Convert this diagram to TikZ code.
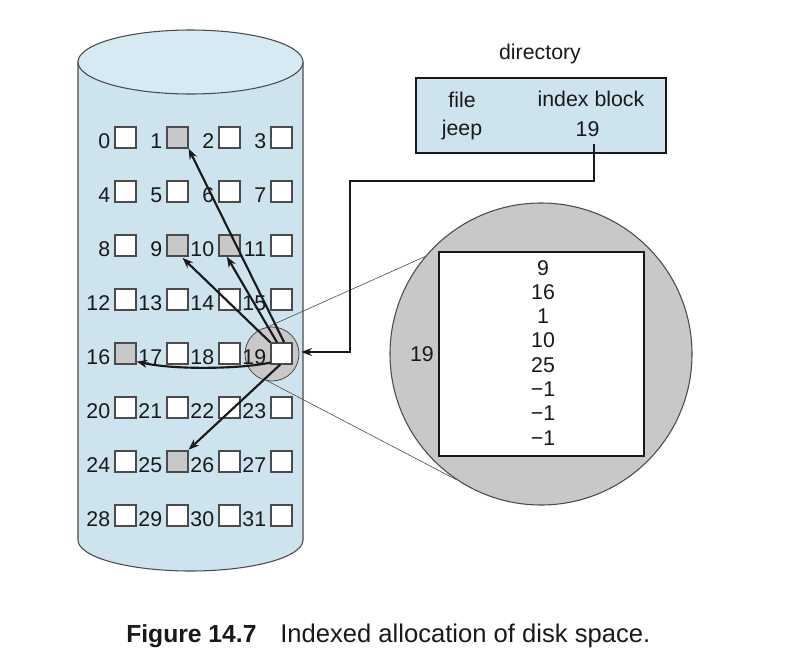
\documentclass[tikz,border=0pt]{standalone}
\usepackage{fontspec}
\setmainfont{Liberation Sans}
\usetikzlibrary{arrows.meta}
\definecolor{cylblue}{RGB}{205,228,239}
\definecolor{topblue}{RGB}{214,234,243}
\definecolor{grayfill}{RGB}{200,200,200}
\definecolor{edgegray}{RGB}{75,75,75}
\definecolor{ink}{RGB}{25,25,25}
\begin{document}
\begin{tikzpicture}[x=0.75pt,y=-0.75pt,
  lbl/.style={font=\fontsize{16}{19}\selectfont, inner sep=0pt, text=ink},
  blk/.style={rectangle, draw=edgegray, line width=0.9pt, fill=white, minimum size=15.75pt, inner sep=0pt},
  arr/.style={draw=ink, line width=1.6pt, -{Stealth[length=8pt,width=6pt]}},
  conn/.style={draw=ink, line width=1.7pt, -{Stealth[length=8pt,width=6pt]}},
  projline/.style={draw=edgegray, line width=0.45pt},
  captionstyle/.style={font=\fontsize{18.5}{22}\selectfont, inner sep=0pt, text=ink}]
\useasboundingbox (0,0) rectangle (786,664);

% disk cylinder
\draw[draw=edgegray, line width=0.8pt, fill=cylblue]
  (78,62) -- (78,540) arc[start angle=180, end angle=360, x radius=84.375pt, y radius=23.25pt]
  -- (303,62) -- cycle;
\draw[draw=edgegray, line width=0.8pt, fill=topblue]
  (190.5,62) ellipse[x radius=84.375pt, y radius=24pt];

% magnified index block
\node[circle, draw=edgegray, line width=0.8pt, fill=grayfill, minimum size=226.5pt, inner sep=0pt] (big) at (541,354) {};
\node[rectangle, draw=ink, line width=1.6pt, fill=white, minimum width=153.75pt, minimum height=153pt, inner sep=0pt] (iblk) at (541.5,354) {};
\foreach \v [count=\k from 0] in {9,16,1,10,25,−1,−1,−1}{
  \node[lbl, anchor=base] (v\k) at (543,{275+24.3*\k}) {\v};
}
\node[lbl, anchor=base] (n19) at (422,361.5) {19};

% small circle around block 19 and its projection lines
\path node[circle, minimum size=40.5pt, inner sep=0pt] (zoom) at (272,354) {};
\draw[projline] (zoom.100) -- (big.140);
\draw[projline] (zoom.-100) -- (big.-124);
\draw[draw=edgegray, line width=0.6pt, fill=grayfill] (zoom.center) circle[radius=20.25pt];

% blocks 0..31
\foreach \r in {0,...,7}{
  \foreach \c in {0,...,3}{
    \pgfmathtruncatemacro\n{4*\r+\c}
    \node[blk] (b\n) at ({125.5+52*\c},{137.5+54*\r}) {};
    \node[lbl, anchor=base east] (l\n) at ([xshift=-3pt]b\n.south west) {\n};
  }
}
\foreach \n in {1,9,10,16,25}{
  \node[blk, fill=grayfill] (g\n) at (b\n) {};
}

% pointers from index block 19
\draw[arr] (b19.north west) -- ([xshift=-4.5pt,yshift=-1pt]b9.south east);
\draw[arr] ([xshift=5pt]b19.north west) -- ([xshift=-2pt]b10.south);
\draw[arr] ([xshift=2pt]b19.north) -- (b1.south east);
\draw[arr] ([xshift=-1pt]b19.south) -- ([yshift=0.5pt]b25.north east);
\draw[arr] ([yshift=1.5pt]b19.south west) .. controls (240,369) and (175,370) .. ([yshift=2.25pt]b16.south east);

% directory
\node[lbl, anchor=base] (dirt) at (540,59) {directory};
\node[rectangle, draw=ink, line width=1.2pt, fill=cylblue, minimum width=187.5pt, minimum height=56.25pt, inner sep=0pt] (dir) at (541,115.5) {};
\node[lbl, anchor=base] (hfile) at (462,107) {file};
\node[lbl, anchor=base] (hidx) at (591,106) {index block};
\node[lbl, anchor=base] (fjeep) at (462,135) {jeep};
\node[lbl, anchor=base] (idx) at (587.5,136.5) {19};

\draw[conn] ([xshift=5pt,yshift=-5.5pt]idx.south) -- ++(0,37) -| ([xshift=38.25pt,yshift=1.5pt]zoom.east) -- ([xshift=1.5pt,yshift=1.5pt]zoom.east);

% caption
\node[captionstyle, anchor=base west] (fig) at (126,642) {\bfseries Figure 14.7};
\node[captionstyle, font=\fontsize{19.2}{22}\selectfont, anchor=base west] (captxt) at (280,642) {Indexed allocation of disk space.};
\end{tikzpicture}
\end{document}
